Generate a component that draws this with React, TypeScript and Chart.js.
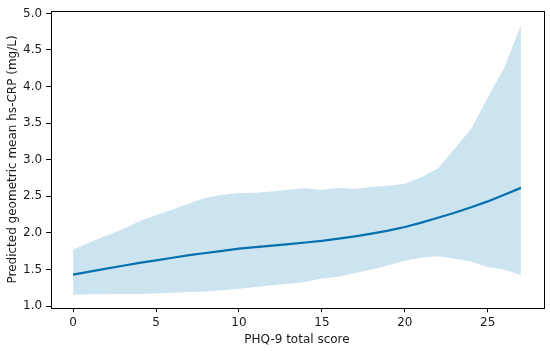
import React, { useEffect, useRef } from "react";
import { Chart, registerables } from "chart.js";

Chart.register(...registerables);

const scores = [0,1,2,3,4,5,6,7,8,9,10,11,12,13,14,15,16,17,18,19,20,21,22,23,24,25,26,27];
const predicted = [1.43,1.47,1.51,1.55,1.59,1.625,1.66,1.695,1.725,1.755,1.785,1.805,1.826,1.847,1.868,1.89,1.92,1.953,1.99,2.03,2.08,2.14,2.207,2.275,2.35,2.43,2.52,2.615];
const upperCI = [1.77,1.87,1.96,2.05,2.16,2.24,2.32,2.4,2.48,2.52,2.545,2.55,2.565,2.59,2.61,2.585,2.615,2.6,2.63,2.645,2.67,2.76,2.88,3.15,3.42,3.85,4.26,4.84];
const lowerCI = [1.155,1.16,1.16,1.165,1.165,1.17,1.18,1.19,1.2,1.215,1.235,1.26,1.285,1.305,1.33,1.375,1.4,1.45,1.5,1.555,1.62,1.66,1.68,1.645,1.61,1.535,1.5,1.42];
const xTicks = [0, 5, 10, 15, 20, 25];
const yTicks = [1.0, 1.5, 2.0, 2.5, 3.0, 3.5, 4.0, 4.5, 5.0];
const xTitle = "PHQ-9 total score";
const yTitle = "Predicted geometric mean hs-CRP (mg/L)";

const FONT = "'DejaVu Sans', sans-serif";
const TEXT = "#1a1a1a";

const framePlugin = {
  id: "frame",
  afterDraw(chart: any) {
    const { ctx, chartArea } = chart;
    ctx.save();
    ctx.strokeStyle = "#000";
    ctx.lineWidth = 1;
    ctx.strokeRect(
      Math.round(chartArea.left) + 0.5,
      Math.round(chartArea.top) + 0.5,
      Math.round(chartArea.right - chartArea.left),
      Math.round(chartArea.bottom - chartArea.top)
    );
    ctx.restore();
  },
};

export default function App() {
  const ref = useRef<HTMLCanvasElement>(null);
  useEffect(() => {
    document.body.style.margin = "0";
    const mk = (arr: number[]) => scores.map((x, i) => ({ x, y: arr[i] }));
    const chart = new Chart(ref.current!, {
      type: "line",
      data: {
        datasets: [
          {
            data: mk(predicted),
            borderWidth: 2.2,
            pointRadius: 0,
            fill: false,
            borderColor: "#0570ad",
            tension: 0,
          },
          {
            data: mk(lowerCI),
            borderWidth: 0,
            pointRadius: 0,
            fill: false,
            borderColor: "rgba(0,0,0,0)",
            tension: 0,
          },
          {
            data: mk(upperCI),
            borderWidth: 0,
            pointRadius: 0,
            fill: "-1",
            backgroundColor: "rgb(204,227,240)",
            borderColor: "rgba(0,0,0,0)",
            tension: 0,
          },
        ],
      },
      options: {
        animation: false,
        responsive: false,
        layout: { padding: { top: 10, right: 6.7, left: 0, bottom: 0 } },
        plugins: { legend: { display: false }, tooltip: { enabled: false } },
        scales: {
          x: {
            type: "linear",
            min: -1.35,
            max: 28.35,
            afterBuildTicks: (s: any) => { s.ticks = xTicks.map((v) => ({ value: v })); },
            afterFit: (s: any) => { s.height = 43.3; },
            border: { display: false },
            grid: { drawOnChartArea: false, drawTicks: true, tickLength: 4.5, color: "#000" },
            ticks: { font: { family: FONT, size: 12 }, color: TEXT, padding: 3, maxRotation: 0, autoSkip: false, callback: (v: any) => String(v) },
            title: { display: true, text: xTitle, font: { family: FONT, size: 12 }, color: TEXT, padding: { top: 0, bottom: 4.2 } },
          },
          y: {
            type: "linear",
            min: 0.977,
            max: 5.03,
            afterBuildTicks: (s: any) => { s.ticks = yTicks.map((v) => ({ value: v })); },
            afterFit: (s: any) => { s.width = 50.7; },
            border: { display: false },
            grid: { drawOnChartArea: false, drawTicks: true, tickLength: 4.5, color: "#000" },
            ticks: { font: { family: FONT, size: 12 }, color: TEXT, padding: 4, autoSkip: false, callback: (v: any) => Number(v).toFixed(1) },
            title: { display: true, text: yTitle, font: { family: FONT, size: 12 }, color: TEXT, padding: { top: 5.2, bottom: 0 } },
          },
        },
      },
      plugins: [framePlugin],
    });
    return () => chart.destroy();
  }, []);
  return <canvas ref={ref} width={550} height={351} style={{ display: "block" }} />;
}
